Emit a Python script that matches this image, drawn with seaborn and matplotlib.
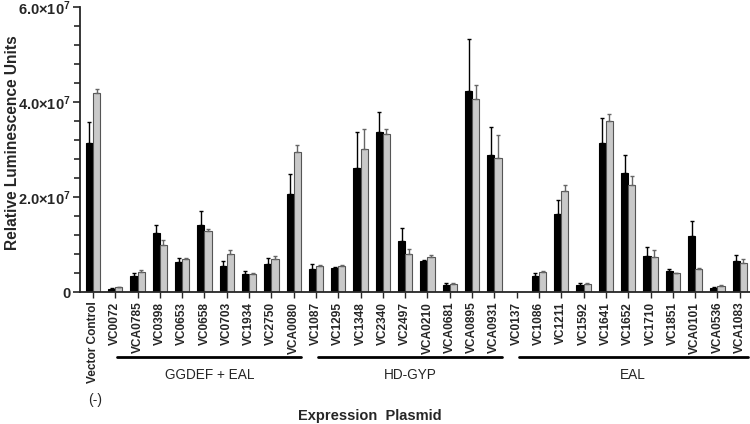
import numpy as np
import pandas as pd
import matplotlib
matplotlib.use("Agg")
import matplotlib.pyplot as plt
import matplotlib.transforms as mtransforms
from matplotlib.ticker import MultipleLocator
from matplotlib.container import BarContainer
import seaborn as sns

# ---------------- data (x 1e7 RLU) ----------------
plasmids = ["Vector Control", "VC0072", "VCA0785", "VC0398", "VC0653", "VC0658",
            "VC0703", "VC1934", "VC2750", "VCA0080", "VC1087", "VC1295", "VC1348",
            "VC2340", "VC2497", "VCA0210", "VCA0681", "VCA0895", "VCA0931",
            "VC0137", "VC1086", "VC1211", "VC1592", "VC1641", "VC1652", "VC1710",
            "VC1851", "VCA0101", "VCA0536", "VCA1083"]
black_mean = [3.14, 0.06, 0.34, 1.24, 0.63, 1.41, 0.55, 0.38, 0.59, 2.06,
              0.48, 0.50, 2.62, 3.37, 1.07, 0.65, 0.15, 4.23, 2.88,
              0.00, 0.34, 1.64, 0.15, 3.14, 2.51, 0.76, 0.44, 1.18, 0.08, 0.65]
black_err = [0.44, 0.02, 0.06, 0.17, 0.09, 0.29, 0.10, 0.06, 0.13, 0.42,
             0.11, 0.03, 0.74, 0.42, 0.28, 0.02, 0.03, 1.10, 0.59,
             0.00, 0.06, 0.30, 0.04, 0.52, 0.37, 0.19, 0.04, 0.31, 0.02, 0.13]
grey_mean = [4.19, 0.10, 0.42, 0.99, 0.69, 1.28, 0.80, 0.38, 0.69, 2.95,
             0.55, 0.55, 3.01, 3.33, 0.80, 0.74, 0.17, 4.06, 2.82,
             0.00, 0.42, 2.13, 0.17, 3.60, 2.25, 0.74, 0.40, 0.48, 0.13, 0.61]
grey_err = [0.08, 0.01, 0.04, 0.10, 0.03, 0.05, 0.08, 0.02, 0.07, 0.14,
            0.01, 0.02, 0.42, 0.10, 0.11, 0.04, 0.01, 0.30, 0.49,
            0.00, 0.02, 0.12, 0.02, 0.15, 0.19, 0.14, 0.01, 0.03, 0.01, 0.08]
scale = 1e7

groups = [("GGDEF + EAL", 1, 9), ("HD-GYP", 10, 18), ("EAL", 19, 29)]
ytick_vals = [0, 2e7, 4e7, 6e7]
ytick_labels = ["0", r"$\mathbf{2.0{\times}10^{7}}$", r"$\mathbf{4.0{\times}10^{7}}$",
                r"$\mathbf{6.0{\times}10^{7}}$"]

# ---------------- style ----------------
sns.set_style("ticks")
plt.rcParams["font.family"] = ["Liberation Sans", "DejaVu Sans"]
plt.rcParams["mathtext.fontset"] = "custom"
plt.rcParams["mathtext.rm"] = "Liberation Sans"
plt.rcParams["mathtext.bf"] = "Liberation Sans:bold"

df = pd.DataFrame({
    "plasmid": plasmids * 2,
    "series": ["A"] * len(plasmids) + ["B"] * len(plasmids),
    "rlu": [v * scale for v in black_mean] + [v * scale for v in grey_mean],
})

fig = plt.figure(figsize=(7.5, 4.24), dpi=100)
ax = fig.add_axes([80 / 750, 1 - 292 / 424, 670 / 750, 285 / 424])

sns.barplot(data=df, x="plasmid", y="rlu", hue="series", order=plasmids,
            palette=["black", "#c9c9c9"], width=0.64, errorbar=None,
            saturation=1, legend=False, ax=ax)

cols_edge = ["black", "#555555"]
err_cols = ["black", "#666666"]
errs = [black_err, grey_err]
bar_conts = [c for c in ax.containers if isinstance(c, BarContainer)]
for ci, cont in enumerate(bar_conts):
    xs, ys, es = [], [], []
    for bi, bar in enumerate(cont):
        bar.set_edgecolor(cols_edge[ci])
        bar.set_linewidth(0.8)
        if bar.get_height() > 0:
            xs.append(bar.get_x() + bar.get_width() / 2)
            ys.append(bar.get_height())
            es.append(errs[ci][bi] * scale)
    ax.errorbar(xs, ys, yerr=[np.zeros(len(es)), es], fmt="none",
                ecolor=err_cols[ci], elinewidth=1.0, capsize=1.6, capthick=1.0,
                zorder=3)

ax.set_xlim(-0.58, 29.46)
ax.set_ylim(0, 6e7)
ax.set_yticks(ytick_vals)
ax.set_yticklabels(ytick_labels, fontsize=10.5, fontweight="bold")
ax.yaxis.set_minor_locator(MultipleLocator(0.4e7))
ax.tick_params(axis="y", which="major", length=5, width=1.2, pad=2)
ax.tick_params(axis="y", which="minor", length=4, width=1.2)
ax.tick_params(axis="x", which="major", length=4, width=1.0, pad=3)
ax.set_xticks(range(len(plasmids)))
ax.set_xticklabels(plasmids, rotation=90, fontsize=8.6, fontweight="bold",
                   ha="center", va="top")
ax.set_xlabel("")
ax.set_ylabel("")
sns.despine(ax=ax)
for s in ["left", "bottom"]:
    ax.spines[s].set_linewidth(1.3)

# group bars and labels
trans = mtransforms.blended_transform_factory(ax.transData, ax.transAxes)
y_line = (292 - 357) / 285
y_text = (292 - 375) / 285
for name, a, b in groups:
    x0, x1 = a + 0.1, b + 0.35
    ax.plot([x0, x1], [y_line, y_line], color="black", lw=2.0,
            transform=trans, clip_on=False)
    ax.text((x0 + x1) / 2, y_text, name, transform=trans, ha="center",
            va="center", fontsize=9.8)
ax.text(0.1, (292 - 400) / 285, "(-)", transform=trans, ha="center",
        va="center", fontsize=10)

fig.text(370 / 750, 1 - 416 / 424, "Expression  Plasmid", ha="center",
         va="center", fontsize=10.5, fontweight="bold")
fig.text(13 / 750, 1 - 143 / 424, "Relative Luminescence Units", rotation=90,
         ha="center", va="center", fontsize=11.2, fontweight="bold")

fig.savefig("out.png", dpi=100)
